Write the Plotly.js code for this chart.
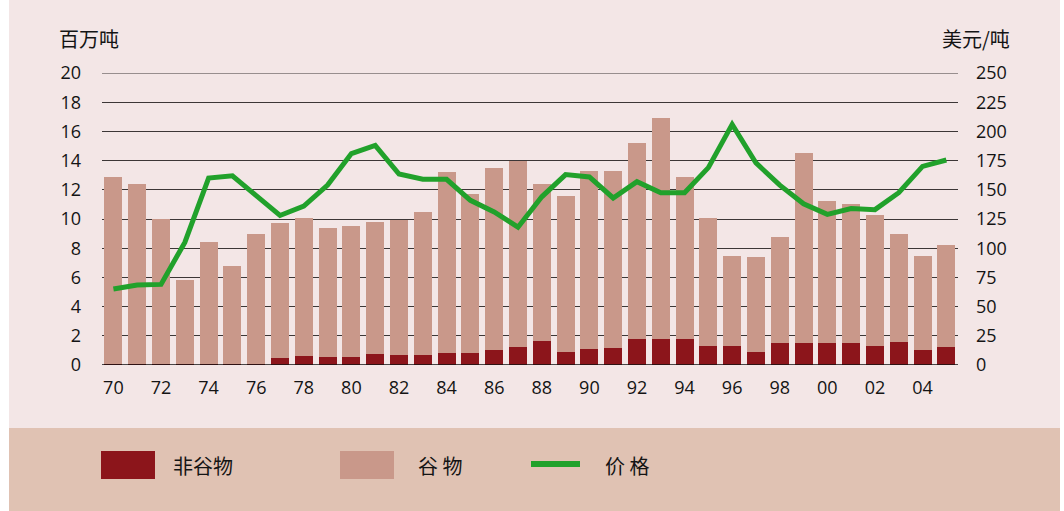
<!DOCTYPE html>
<html>
<head>
<meta charset="utf-8">
<script src="https://cdn.plot.ly/plotly-3.0.1.min.js"></script>
<style>
  html, body { margin:0; padding:0; background:#ffffff; }
  #bgTop { position:absolute; left:9px; top:0; width:1051px; height:428px; background:#f3e6e6; }
  #bgBot { position:absolute; left:9px; top:428px; width:1051px; height:83px; background:#e0c2b3; }
  #chart { position:absolute; left:0; top:0; width:1064px; height:511px; }
</style>
</head>
<body>
<div id="bgTop"></div>
<div id="bgBot"></div>
<div id="chart"></div>
<script>
const years = [1970,1971,1972,1973,1974,1975,1976,1977,1978,1979,1980,1981,1982,1983,1984,1985,1986,1987,1988,1989,1990,1991,1992,1993,1994,1995,1996,1997,1998,1999,2000,2001,2002,2003,2004,2005];
const nonCereal = [0.05,0.05,0.05,0.05,0.05,0.05,0.05,0.5,0.6,0.55,0.55,0.75,0.7,0.7,0.8,0.8,1.0,1.2,1.65,0.9,1.1,1.15,1.8,1.8,1.8,1.3,1.3,0.9,1.5,1.5,1.5,1.5,1.3,1.6,1.0,1.2];
const cereal = [12.85,12.35,9.95,5.75,8.35,6.75,8.95,9.2,9.5,8.85,8.95,9.05,9.2,9.8,12.4,10.9,12.5,12.8,10.75,10.7,12.2,12.15,13.4,15.1,11.1,8.8,6.2,6.5,7.3,13.0,9.7,9.5,9.0,7.4,6.5,7.0];
const price = [65,68.5,69,105,160,162,145,128,136,154,181,188,163.5,159,159,141,131,118,144,163,161,143,157,147.5,147.5,169,206,173,154,138,129,134,133,147.5,170,175.5];
const tickYears = [1970,1972,1974,1976,1978,1980,1982,1984,1986,1988,1990,1992,1994,1996,1998,2000,2002,2004];
const tickLabels = ["70","72","74","76","78","80","82","84","86","88","90","92","94","96","98","00","02","04"];
const leftTicks = [0,2,4,6,8,10,12,14,16,18,20];
const rightTicks = [0,25,50,75,100,125,150,175,200,225,250];
const seriesNames = ["非谷物","谷 物","价 格"];
const axisTitles = ["百万吨","美元/吨"];

const cDark = "#8c151b", cLight = "#c9988a", cGreen = "#21a12b";
const gridColor = "#3c3636";
const tickFont = {family:"Open Sans, Liberation Sans, sans-serif", size:18, color:"#141414"};
const cjkFont = {family:"Noto Sans CJK SC, sans-serif", size:20, color:"#141414"};

const traces = [
  {type:"bar", x:years, y:nonCereal, name:seriesNames[0], marker:{color:cDark}, hoverinfo:"skip"},
  {type:"bar", x:years, y:cereal, name:seriesNames[1], marker:{color:cLight}, hoverinfo:"skip"},
  {type:"scatter", mode:"lines", x:years, y:price, yaxis:"y2", name:seriesNames[2],
   line:{color:cGreen, width:5, shape:"linear"}, hoverinfo:"skip"}
];

// plot area: x 102..958, y 73..365
const W = 856, H = 292;
function px(x){ return (x-102)/W; }
function py(y){ return (365-y)/H; }

const layout = {
  width:1064, height:511,
  margin:{l:102, r:106, t:73, b:146, pad:0},
  paper_bgcolor:"rgba(0,0,0,0)",
  plot_bgcolor:"rgba(0,0,0,0)",
  barmode:"stack",
  bargap:0.244,
  showlegend:false,
  xaxis:{
    range:[1969.52, 2005.49], tickmode:"array", tickvals:tickYears, ticktext:tickLabels,
    showgrid:false, zeroline:false, showline:false, ticks:"", tickfont:tickFont,
    ticklabelstandoff:10, fixedrange:true
  },
  yaxis:{
    range:[0,20], tickmode:"array", tickvals:leftTicks, showgrid:true, gridcolor:gridColor, gridwidth:1,
    zeroline:false, showline:false, ticks:"", tickfont:tickFont, ticklabelstandoff:20, fixedrange:true
  },
  yaxis2:{
    range:[0,250], overlaying:"y", side:"right", tickmode:"array", tickvals:rightTicks,
    showgrid:false, zeroline:false, showline:false, ticks:"", tickfont:tickFont, ticklabelstandoff:17, fixedrange:true
  },
  shapes:[
    {type:"line", xref:"paper", yref:"y", x0:0, x1:1, y0:0, y1:0, line:{color:"#111", width:1.5}, layer:"above"},
    {type:"line", xref:"paper", yref:"y", x0:0, x1:1, y0:20, y1:20, line:{color:gridColor, width:1}, layer:"below"},
    {type:"rect", xref:"paper", yref:"paper", x0:px(101), x1:px(155), y0:py(479), y1:py(451), fillcolor:cDark, line:{width:0}},
    {type:"rect", xref:"paper", yref:"paper", x0:px(340), x1:px(394), y0:py(479), y1:py(451), fillcolor:cLight, line:{width:0}},
    {type:"line", xref:"paper", yref:"paper", x0:px(531), x1:px(580), y0:py(464), y1:py(464), line:{color:cGreen, width:6}}
  ],
  annotations:[
    {text:axisTitles[0], xref:"paper", yref:"paper", x:px(57), y:py(38), xanchor:"left", yanchor:"middle", showarrow:false, font:cjkFont},
    {text:axisTitles[1], xref:"paper", yref:"paper", x:px(1012), y:py(38), xanchor:"right", yanchor:"middle", showarrow:false, font:cjkFont},
    {text:seriesNames[0], xref:"paper", yref:"paper", x:px(171), y:py(465), xanchor:"left", yanchor:"middle", showarrow:false, font:cjkFont},
    {text:seriesNames[1], xref:"paper", yref:"paper", x:px(416), y:py(465), xanchor:"left", yanchor:"middle", showarrow:false, font:cjkFont},
    {text:seriesNames[2], xref:"paper", yref:"paper", x:px(603), y:py(465), xanchor:"left", yanchor:"middle", showarrow:false, font:cjkFont}
  ]
};

Plotly.newPlot("chart", traces, layout, {displayModeBar:false, staticPlot:true});
</script>
</body>
</html>
